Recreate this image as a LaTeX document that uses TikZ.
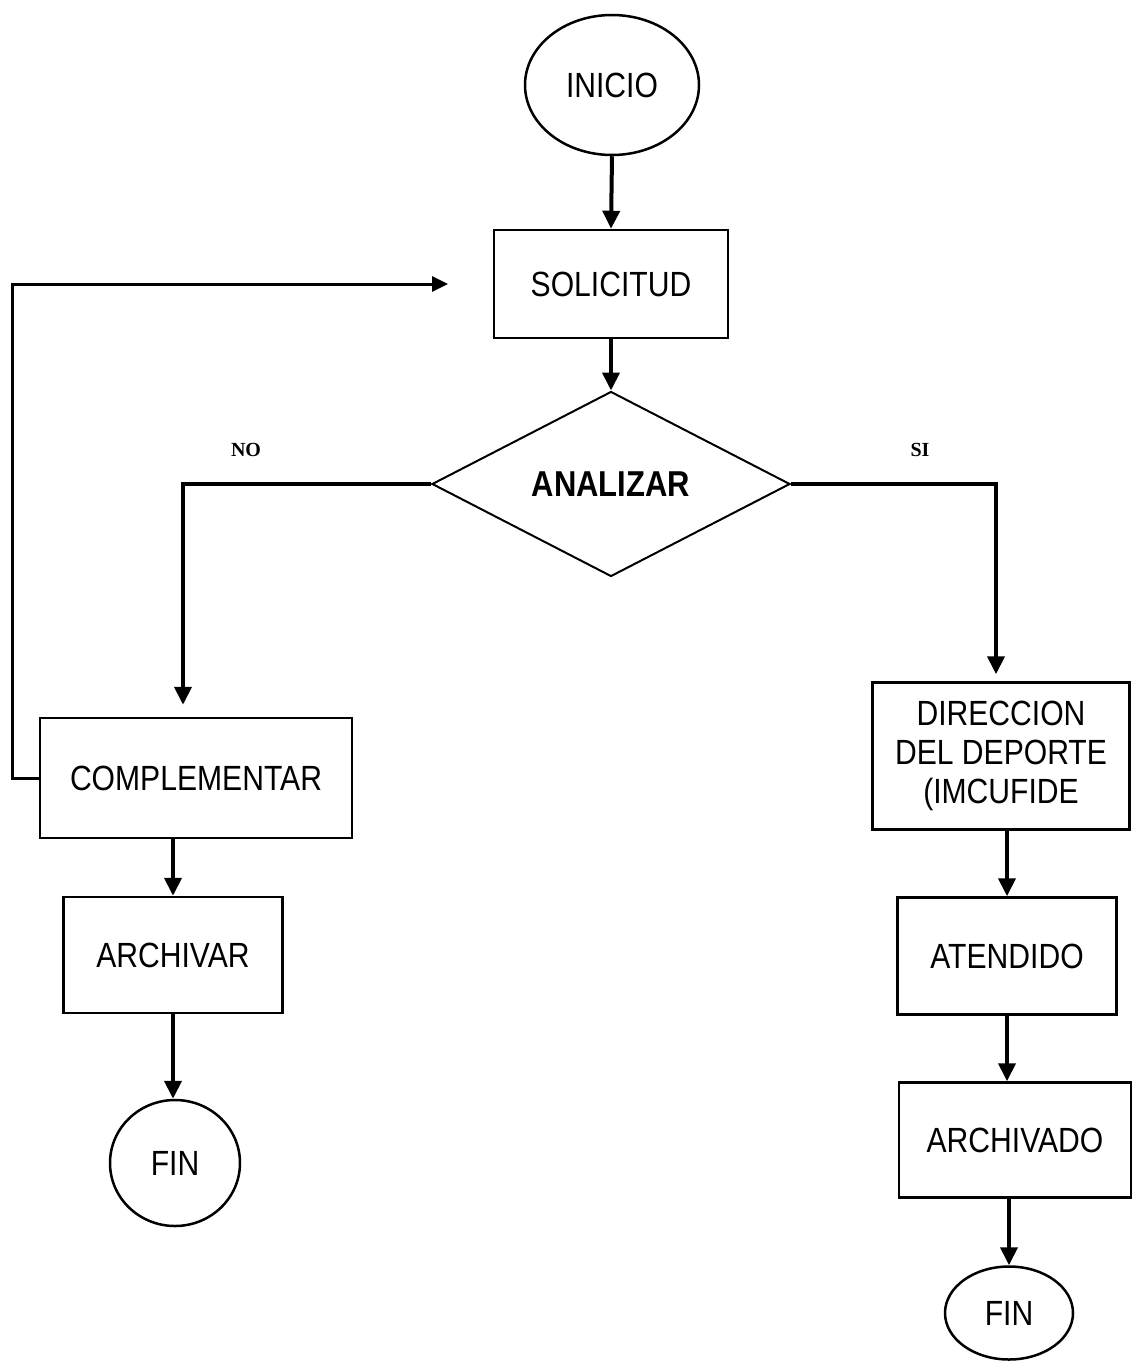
\documentclass[tikz,border=0pt]{standalone}
\usepackage{fontspec}
\setmainfont[FakeStretch=0.86]{Liberation Sans}
\newfontfamily\labelfont{Liberation Serif}
\usetikzlibrary{shapes.geometric, arrows.meta}

\begin{document}
\begin{tikzpicture}[x=1pt, y=-1pt,
		caja/.style={rectangle, draw, line width=2.5pt, inner sep=0pt, font=\fontsize{35}{39}\selectfont, align=center},
		elipse/.style={ellipse, draw, line width=2.5pt, inner sep=0pt, font=\fontsize{35}{39}\selectfont},
		flecha/.style={line width=4pt, -{Triangle[length=18pt, width=17pt]}},
		etiqueta/.style={font=\labelfont\bfseries\fontsize{20}{22}\selectfont}]
			\useasboundingbox (0,0) rectangle (1132,1364);
			\node[elipse, minimum width=174, minimum height=140] at (612,85) (inicio){INICIO};
			\node[caja, minimum width=234, minimum height=108] at (611,284) (solicitud){SOLICITUD};
			\node[diamond, draw, line width=2pt, inner sep=0pt, minimum width=358, minimum height=185, font=\bfseries\fontsize{36}{40}\selectfont] at (611,484) (analizar){ANALIZAR};
			\node[caja, minimum width=312, minimum height=120] at (196,778) (complementar){COMPLEMENTAR};
			\node[caja, minimum width=219, minimum height=116] at (173,955) (archivar){ARCHIVAR};
			\node[elipse, minimum width=130, minimum height=126] at (175,1163) (fin1){FIN};
			\node[caja, minimum width=257, minimum height=147] at (1001,756) (direccion){DIRECCION\\DEL DEPORTE\\(IMCUFIDE};
			\node[caja, minimum width=219, minimum height=117] at (1007,956) (atendido){ATENDIDO};
			\node[caja, minimum width=232, minimum height=115] at (1015,1140) (archivado){ARCHIVADO};
			\node[elipse, minimum width=128, minimum height=93] at (1009,1313) (fin2){FIN};
			\node[etiqueta] at (246,450) (no){NO};
			\node[etiqueta] at (920,450) (si){SI};
			\coordinate (regreso) at (448,284);
			\draw[flecha] (inicio.south) -- (solicitud.north);
			\draw[flecha] (solicitud.south) -- (analizar.north);
			\draw[flecha, shorten >=12pt] (analizar.west) -| ([xshift=-13pt]complementar.north);
			\draw[flecha, shorten >=7pt] (analizar.east) -| ([xshift=-5pt]direccion.north);
			\draw[flecha] (complementar.south -| archivar.north) -- (archivar.north);
			\draw[flecha] (archivar.south) -- (archivar.south |- fin1.north);
			\draw[flecha] (direccion.south -| atendido.north) -- (atendido.north);
			\draw[flecha] (atendido.south) -- (atendido.south |- archivado.north);
			\draw[flecha] (archivado.south -| fin2.north) -- (fin2.north);
			% vuelve a la solicitud
			\draw[line width=3pt, -{Triangle[length=16pt, width=15pt]}] (complementar.west) -- (12,778) -- (12,284) -- (regreso);
		\end{tikzpicture}
\end{document}
